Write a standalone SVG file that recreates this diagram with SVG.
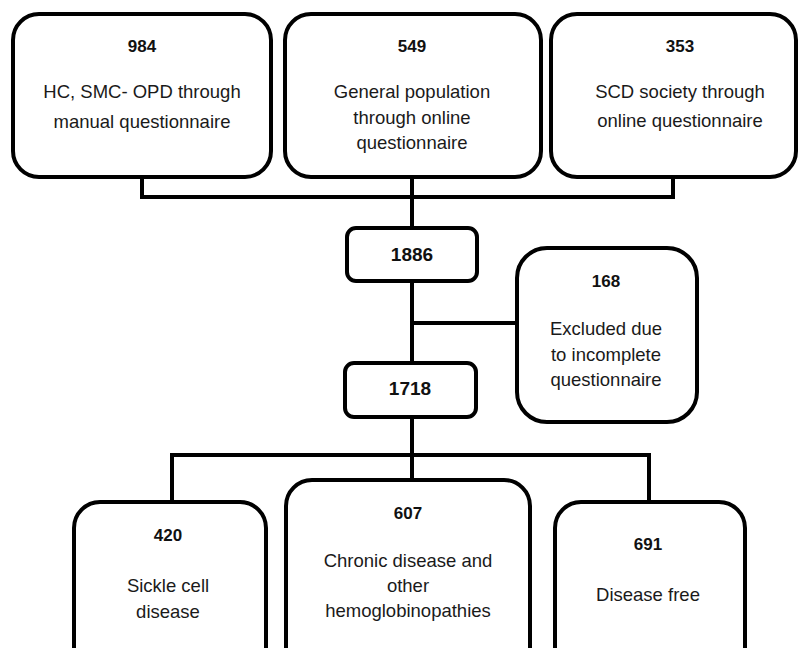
<svg xmlns="http://www.w3.org/2000/svg" width="799" height="648" viewBox="0 0 799 648">
<style>
.box{fill:#fff;stroke:#000;stroke-width:4}
.ln{fill:none;stroke:#000;stroke-width:4;stroke-linejoin:miter}
.num{font-family:"Liberation Sans",Arial,sans-serif;font-weight:bold;font-size:17px;fill:#111;text-anchor:middle}
.big{font-size:19px}
.txt{font-family:"Liberation Sans",Arial,sans-serif;font-size:18.5px;fill:#1a1a1a;text-anchor:middle}
</style>
<rect width="799" height="648" fill="#fff"/>
<g id="connectors">
<polyline class="ln" points="142,177 142,197 673,197 673,177"/>
<line class="ln" x1="412" y1="177" x2="412" y2="229"/>
<line class="ln" x1="412" y1="281" x2="412" y2="455"/>
<line class="ln" x1="412" y1="323" x2="517" y2="323"/>
<polyline class="ln" points="172,502 172,455 649,455 649,502"/>
<line class="ln" x1="412" y1="455" x2="412" y2="480"/>
</g>
<g id="n984">
<rect class="box" x="13" y="14" width="258" height="163" rx="26"/>
<text class="num" x="142" y="52">984</text>
<text class="txt" x="142" y="98">HC, SMC- OPD through</text>
<text class="txt" x="142" y="128">manual questionnaire</text>
</g>
<g id="n549">
<rect class="box" x="285" y="14" width="256" height="163" rx="26"/>
<text class="num" x="412" y="52">549</text>
<text class="txt" x="412" y="98">General population</text>
<text class="txt" x="412" y="124">through online</text>
<text class="txt" x="412" y="149">questionnaire</text>
</g>
<g id="n353">
<rect class="box" x="551" y="14" width="245" height="163" rx="26"/>
<text class="num" x="680" y="52">353</text>
<text class="txt" x="680" y="98">SCD society through</text>
<text class="txt" x="680" y="127">online questionnaire</text>
</g>
<g id="n1886">
<rect class="box" x="347" y="228" width="130" height="53" rx="9"/>
<text class="num big" x="412" y="261">1886</text>
</g>
<g id="n168">
<rect class="box" x="517" y="248" width="180" height="174" rx="30"/>
<text class="num" x="606" y="287">168</text>
<text class="txt" x="606" y="335">Excluded due</text>
<text class="txt" x="606" y="361">to incomplete</text>
<text class="txt" x="606" y="386">questionnaire</text>
</g>
<g id="n1718">
<rect class="box" x="345" y="363" width="131" height="54" rx="9"/>
<text class="num big" x="410" y="395">1718</text>
</g>
<g id="n420">
<rect class="box" x="74" y="502" width="192" height="180" rx="26"/>
<text class="num" x="168" y="541">420</text>
<text class="txt" x="168" y="592">Sickle cell</text>
<text class="txt" x="168" y="618">disease</text>
</g>
<g id="n607">
<rect class="box" x="286" y="480" width="244" height="200" rx="26"/>
<text class="num" x="408" y="519">607</text>
<text class="txt" x="408" y="567">Chronic disease and</text>
<text class="txt" x="408" y="592">other</text>
<text class="txt" x="408" y="617">hemoglobinopathies</text>
</g>
<g id="n691">
<rect class="box" x="555" y="502" width="190" height="180" rx="26"/>
<text class="num" x="648" y="550">691</text>
<text class="txt" x="648" y="601">Disease free</text>
</g>
</svg>
